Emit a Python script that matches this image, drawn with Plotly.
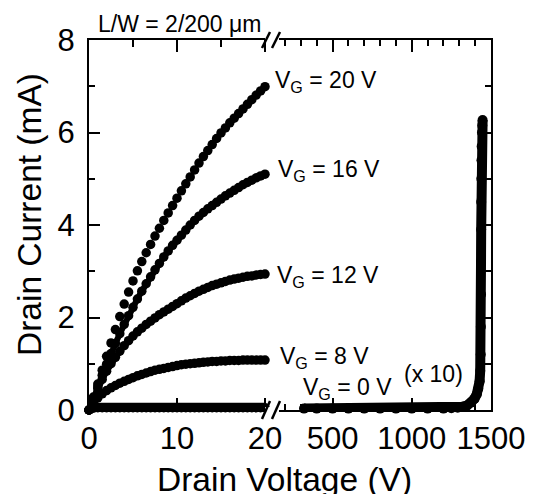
import plotly.graph_objects as go

# ---------------- data ----------------
vd = [0, 0.5, 1, 1.5, 2, 2.5, 3, 3.5, 4, 4.5, 5, 5.5, 6, 6.5, 7, 7.5, 8, 8.5, 9, 9.5,
      10, 10.5, 11, 11.5, 12, 12.5, 13, 13.5, 14, 14.5, 15, 15.5, 16, 16.5, 17, 17.5,
      18, 18.5, 19, 19.5, 20]

id_vg20 = [0, 0.28, 0.56, 0.86, 1.16, 1.45, 1.74, 2.02, 2.29, 2.55, 2.79, 3.01, 3.21, 3.40,
           3.58, 3.76, 3.93, 4.10, 4.26, 4.42, 4.58, 4.74, 4.89, 5.04, 5.19, 5.34, 5.48,
           5.61, 5.74, 5.87, 5.99, 6.10, 6.21, 6.31, 6.41, 6.51, 6.61, 6.71, 6.81, 6.90, 6.99]

id_vg16 = [0, 0.25, 0.50, 0.75, 0.99, 1.22, 1.44, 1.65, 1.85, 2.04, 2.22, 2.40, 2.57, 2.73,
           2.88, 3.03, 3.17, 3.31, 3.44, 3.56, 3.67, 3.78, 3.89, 4.00, 4.10, 4.19, 4.27,
           4.35, 4.42, 4.49, 4.56, 4.63, 4.69, 4.75, 4.81, 4.87, 4.92, 4.97, 5.02, 5.06, 5.10]

id_vg12 = [0, 0.24, 0.46, 0.66, 0.84, 1.00, 1.14, 1.27, 1.39, 1.50, 1.60, 1.69, 1.77, 1.85,
           1.92, 1.99, 2.06, 2.12, 2.18, 2.24, 2.30, 2.36, 2.42, 2.47, 2.52, 2.57, 2.61,
           2.65, 2.69, 2.72, 2.75, 2.78, 2.81, 2.83, 2.85, 2.87, 2.89, 2.90, 2.92, 2.93, 2.94]

id_vg8 = [0, 0.14, 0.26, 0.35, 0.42, 0.48, 0.53, 0.58, 0.62, 0.66, 0.70, 0.74, 0.77, 0.80,
          0.83, 0.86, 0.88, 0.90, 0.92, 0.94, 0.96, 0.98, 0.99, 1.00, 1.01, 1.02, 1.03,
          1.04, 1.05, 1.05, 1.06, 1.06, 1.07, 1.07, 1.07, 1.08, 1.08, 1.08, 1.08, 1.08, 1.08]

id_vg0 = [0, 0.04, 0.05, 0.05, 0.05, 0.05, 0.05, 0.05, 0.05, 0.05, 0.05, 0.05, 0.05, 0.05,
          0.05, 0.05, 0.05, 0.05, 0.05, 0.05, 0.05, 0.05, 0.05, 0.05, 0.05, 0.05, 0.05,
          0.05, 0.05, 0.05, 0.05, 0.05, 0.05, 0.05, 0.05, 0.05, 0.05, 0.05, 0.05, 0.05, 0.05]

# high-voltage sweep at VG = 0 V (actual mA; plotted x 10)
vd_hv = [320, 400, 500, 600, 700, 800, 900, 1000, 1100, 1200, 1250, 1290, 1320, 1350, 1375,
         1395, 1410, 1420, 1428, 1432, 1435, 1436, 1437, 1437, 1438, 1438, 1439, 1440, 1441,
         1443, 1445, 1447]
id_hv = [0.003, 0.003, 0.003, 0.003, 0.003, 0.003, 0.003, 0.003, 0.003, 0.003, 0.004, 0.005,
         0.007, 0.010, 0.016, 0.024, 0.034, 0.046, 0.062, 0.085, 0.12, 0.18, 0.25, 0.32,
         0.39, 0.45, 0.50, 0.54, 0.57, 0.60, 0.615, 0.627]
hv_scale = 10

x_ticks_left = [0, 10, 20]
x_ticks_right = [500, 1000, 1500]
y_ticks = [0, 2, 4, 6, 8]

# ---------------- layout geometry (reference pixels) ----------------
OFF = 8                      # page body margin
W, H = 534 - OFF, 494 - OFF
L, R, T, B = 89, 491, 40, 410
BRK = 272


def px(xp):
    return (xp - L) / (R - L)


def py(yp):
    return (B - yp) / (B - T)


FONT = "Arial, Liberation Sans, Helvetica, sans-serif"
BLACK = "#000000"

fig = go.Figure()
mk = dict(color=BLACK, size=9.5, line=dict(width=0))

fig.add_trace(go.Scatter(x=vd, y=id_vg20, mode="markers", marker=mk,
                         xaxis="x", yaxis="y", cliponaxis=False, showlegend=False))
for series, lw in [(id_vg16, 6), (id_vg12, 6), (id_vg8, 6), (id_vg0, 10)]:
    fig.add_trace(go.Scatter(x=vd, y=series, mode="lines+markers", marker=mk,
                             line=dict(color=BLACK, width=lw),
                             xaxis="x", yaxis="y", cliponaxis=False, showlegend=False))

fig.add_trace(go.Scatter(x=vd_hv, y=[v * hv_scale for v in id_hv], mode="lines+markers",
                         marker=dict(color=BLACK, size=10, line=dict(width=0)),
                         line=dict(color=BLACK, width=10),
                         xaxis="x2", yaxis="y2", cliponaxis=False, showlegend=False))

d_split = px(BRK)
tickfont = dict(family=FONT, size=31, color=BLACK)


def xax(**kw):
    d = dict(showline=True, linecolor=BLACK, linewidth=2, mirror="ticks",
             ticks="inside", ticklen=12, tickwidth=2, tickcolor=BLACK,
             showgrid=False, zeroline=False, tickfont=tickfont, automargin=False)
    d.update(kw)
    return d


def yax(**kw):
    d = dict(domain=[0, 1], range=[0, 8], tickvals=y_ticks,
             showline=True, linecolor=BLACK, linewidth=2, mirror=False,
             ticks="inside", ticklen=11, tickwidth=2, tickcolor=BLACK,
             minor=dict(ticks="inside", dtick=1, tick0=0, ticklen=6, tickwidth=2,
                        tickcolor=BLACK, showgrid=False),
             showgrid=False, zeroline=False, automargin=False)
    d.update(kw)
    return d


fig.update_layout(
    width=W, height=H,
    margin=dict(l=L - OFF, r=534 - R, t=T - OFF, b=494 - B, pad=0, autoexpand=False),
    paper_bgcolor="white", plot_bgcolor="white",
    font=dict(family=FONT, color=BLACK),
    xaxis=xax(domain=[0, d_split], range=[0, (BRK - L) / 8.8], anchor="y",
              tickvals=x_ticks_left, ticktext=[str(v) for v in x_ticks_left],
              minor=dict(ticks="inside", dtick=5, tick0=0, ticklen=7, tickwidth=2,
                         tickcolor=BLACK, showgrid=False)),
    xaxis2=xax(domain=[d_split, 1], range=[200 - (285 - BRK) / 0.1585, 1500], anchor="y2",
               tickvals=x_ticks_right, ticktext=[str(v) for v in x_ticks_right],
               minor=dict(ticks="inside", dtick=100, tick0=0, ticklen=6, tickwidth=2,
                          tickcolor=BLACK, showgrid=False)),
    yaxis=yax(anchor="x", ticktext=[str(v) for v in y_ticks], tickfont=tickfont,
              ticklabelstandoff=6),
    yaxis2=yax(anchor="x2", side="right", showticklabels=False),
)

# axis break marks
shapes = []
for (ytop, ybot) in [(T - 8, T + 8), (B - 9, B + 9)]:
    shapes.append(dict(type="rect", xref="paper", yref="paper",
                       x0=px(265), x1=px(279), y0=py(ybot - 6), y1=py(ytop + 6),
                       fillcolor="white", line=dict(width=0), layer="above"))
    for x0 in (262, 272):
        shapes.append(dict(type="line", xref="paper", yref="paper",
                           x0=px(x0), y0=py(ybot), x1=px(x0 + 8), y1=py(ytop),
                           line=dict(color=BLACK, width=2.5), layer="above"))
fig.update_layout(shapes=shapes)

lab = dict(family=FONT, size=23, color=BLACK)
ann = [
    dict(text="V<sub>G</sub> = 20 V", x=px(273), y=py(82)),
    dict(text="V<sub>G</sub> = 16 V", x=px(276), y=py(170)),
    dict(text="V<sub>G</sub> = 12 V", x=px(275), y=py(276)),
    dict(text="V<sub>G</sub> = 8 V", x=px(278), y=py(357)),
    dict(text="V<sub>G</sub> = 0 V", x=px(301), y=py(388)),
    dict(text="(x 10)", x=px(402), y=py(374)),
    dict(text="L/W = 2/200 \u03bcm", x=px(96), y=py(24)),
]
annotations = []
for a in ann:
    annotations.append(dict(text=a["text"], x=a["x"], y=a["y"], xref="paper", yref="paper",
                            xanchor="left", yanchor="middle", showarrow=False, font=lab))
annotations.append(dict(text="Drain Voltage (V)", x=px(284), y=py(479), xref="paper",
                        yref="paper", xanchor="center", yanchor="middle", showarrow=False,
                        font=dict(family=FONT, size=33.5, color=BLACK)))
annotations.append(dict(text="Drain Current (mA)", x=px(29), y=py(215), xref="paper",
                        yref="paper", xanchor="center", yanchor="middle", showarrow=False,
                        textangle=-90, font=dict(family=FONT, size=33.5, color=BLACK)))
fig.update_layout(annotations=annotations)

fig.write_html("out.html")
